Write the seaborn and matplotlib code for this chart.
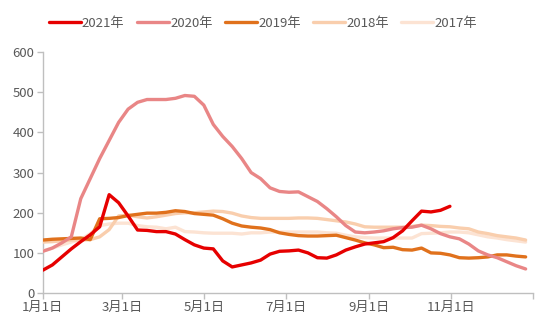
import numpy as np
import pandas as pd
import matplotlib
matplotlib.use("Agg")
import matplotlib.pyplot as plt
import seaborn as sns

# Weekly series, one value per week starting on 1 January
years = ["2021年", "2020年", "2019年", "2018年", "2017年"]
colors = ["#E60000", "#E98686", "#E0711C", "#F9CEAD", "#FCE3D3"]

v2021 = [57, 70, 90, 110, 128, 145, 165, 245, 225, 192, 157, 156, 153, 153, 147,
         133, 120, 112, 110, 80, 65, 70, 75, 82, 97, 104, 105, 107, 100, 88, 87,
         95, 107, 115, 122, 125, 128, 138, 155, 180, 204, 202, 206, 216]
v2020 = [104, 112, 125, 140, 235, 285, 335, 380, 425, 458, 475, 482, 482, 482,
         485, 492, 490, 468, 420, 390, 365, 335, 300, 285, 262, 253, 251, 252,
         240, 228, 210, 190, 168, 152, 150, 152, 155, 160, 163, 164, 169, 160,
         148, 140, 135, 122, 105, 95, 88, 78, 68, 60]
v2019 = [132, 134, 135, 136, 137, 133, 185, 186, 188, 193, 196, 199, 199, 201,
         205, 203, 198, 196, 194, 185, 174, 167, 164, 162, 158, 150, 146, 143,
         142, 142, 143, 144, 138, 132, 125, 120, 113, 114, 108, 107, 112, 100,
         99, 95, 88, 87, 88, 90, 95, 95, 92, 90]
v2018 = [127, 128, 130, 132, 132, 133, 140, 158, 192, 194, 190, 187, 190, 194,
         198, 200, 200, 202, 204, 203, 199, 192, 188, 186, 186, 186, 186, 187,
         187, 186, 183, 180, 177, 172, 165, 164, 164, 164, 164, 166, 169, 168,
         166, 165, 162, 160, 152, 148, 143, 140, 137, 132]
v2017 = [105, 112, 120, 127, 133, 148, 168, 172, 174, 174, 168, 165, 164, 160,
         164, 153, 152, 150, 149, 149, 149, 147, 150, 150, 152, 152, 152, 152,
         152, 152, 150, 149, 144, 140, 138, 137, 137, 137, 137, 137, 148, 149,
         150, 152, 152, 150, 145, 140, 137, 133, 130, 127]

series = [v2021, v2020, v2019, v2018, v2017]
tick_dates = ["2021-01-01", "2021-03-01", "2021-05-01", "2021-07-01",
              "2021-09-01", "2021-11-01", "2022-01-01"]
y_ticks = [0, 100, 200, 300, 400, 500, 600]

start = pd.Timestamp("2021-01-01")
frames = []
for name, vals in zip(years, series):
    dates = start + pd.to_timedelta(np.arange(len(vals)) * 7.05, unit="D")
    frames.append(pd.DataFrame({"date": dates, "value": vals, "year": name}))
df = pd.concat(frames, ignore_index=True)

sns.set_theme(style="white")
plt.rcParams["font.family"] = ["Noto Sans CJK SC", "DejaVu Sans"]

fig = plt.figure(figsize=(5.5, 3.3), dpi=100)
ax = fig.add_axes([0.078, 0.112, 0.891, 0.730])

# older years underneath, current year on top
for i in reversed(range(len(years))):
    name = years[i]
    sub = df[df["year"] == name]
    sns.lineplot(data=sub, x="date", y="value", color=colors[i], lw=2.4,
                 ax=ax, label=name, zorder=2 + (len(years) - i))
h, l = ax.get_legend_handles_labels()
lookup = dict(zip(l, h))
ax.legend([lookup[y] for y in years], years, loc="upper center",
          bbox_to_anchor=(0.478, 0.985), bbox_transform=fig.transFigure,
          ncol=5, frameon=False, fontsize=9.5, handlelength=2.4,
          handletextpad=0.1, columnspacing=0.95, labelcolor="#595959")

ax.set_xlim(pd.Timestamp("2021-01-01"), pd.Timestamp("2022-01-01"))
ax.set_ylim(0, 600)
ax.set_yticks(y_ticks)
tick_ts = [pd.Timestamp(t) for t in tick_dates]
ax.set_xticks(tick_ts)
ax.set_xticklabels([f"{t.month}月{t.day}日" if t.year == 2021 else "" for t in tick_ts])
ax.set_xlabel("")
ax.set_ylabel("")

for side in ["top", "right"]:
    ax.spines[side].set_visible(False)
for side in ["left", "bottom"]:
    ax.spines[side].set_color("#BFBFBF")
    ax.spines[side].set_linewidth(1.0)
ax.tick_params(axis="both", which="both", direction="out", length=4,
               width=1.0, color="#BFBFBF", labelcolor="#595959",
               labelsize=9.5, left=True, bottom=True, pad=2)

fig.savefig("out.png", dpi=100, facecolor="white")
